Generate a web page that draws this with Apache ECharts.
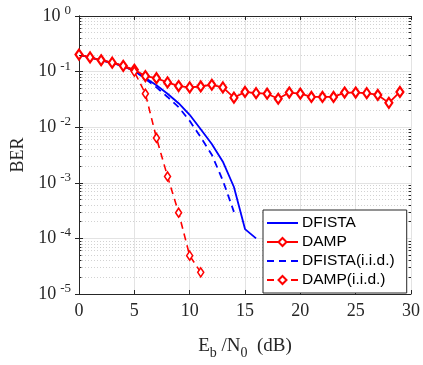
<!DOCTYPE html>
<html><head><meta charset="utf-8">
<script src="https://cdn.jsdelivr.net/npm/echarts@6/dist/echarts.min.js"></script>
<style>html,body{margin:0;padding:0;background:#fff}#c{width:423px;height:365px}</style>
</head><body><div id="c"></div>
<script>
const snrDamp = [0,1,2,3,4,5,6,7,8,9,10,11,12,13,14,15,16,17,18,19,20,21,22,23,24,25,26,27,28,29];
const damp = [0.202,0.18,0.16,0.145,0.127,0.108,0.083,0.076,0.064,0.055,0.052,0.054,0.058,0.052,0.034,0.043,0.041,0.040,0.0325,0.042,0.040,0.035,0.035,0.035,0.042,0.042,0.041,0.038,0.0274,0.043];
const snrDampIid = [0,1,2,3,4,5,6,7,8,9,10,11];
const dampIid = [0.202,0.18,0.16,0.145,0.127,0.1,0.040,0.0064,0.0013,0.00029,0.000049,0.0000245];
const snrDfista = [0,1,2,3,4,5,6,7,8,9,10,11,12,13,14,15,16];
const dfista = [0.2,0.18,0.16,0.143,0.125,0.105,0.077,0.057,0.040,0.027,0.0167,0.0092,0.005,0.0024,0.00084,0.000147,0.0001];
const snrDfistaIid = [0,1,2,3,4,5,6,7,8,9,10,11,12,13,14];
const dfistaIid = [0.2,0.18,0.16,0.143,0.125,0.103,0.074,0.052,0.035,0.023,0.013,0.0066,0.0032,0.0011,0.0003];
const seriesNames = ['DFISTA','DAMP','DFISTA(i.i.d.)','DAMP(i.i.d.)'];
const xTicks = [0,5,10,15,20,25,30];
const yExpMin = -5, yExpMax = 0;

const pairs = (xs, ys) => xs.map((x,i)=>[x, ys[i]]);
const minorVals = [];
for (let e = yExpMin; e < yExpMax; e++) for (let k = 2; k <= 9; k++) minorVals.push(k*Math.pow(10,e));

const axisColor = '#262626';
const serif = 'Liberation Serif';
const noMarker = {color:'rgba(0,0,0,0)', borderColor:'rgba(0,0,0,0)', borderWidth:0};

const minorGrid = minorVals.map(v => [{coord:[0,v]},{coord:[30,v]}]);
const minorTicksL = minorVals.map(v => [{coord:[0,v]},{coord:[0.22,v]}]);
const minorTicksR = minorVals.map(v => [{coord:[29.78,v]},{coord:[30,v]}]);

const chart = echarts.init(document.getElementById('c'), null, {renderer:'canvas'});
chart.setOption({
  animation:false,
  backgroundColor:'#fff',
  grid:{left:79, right:6, top:16, bottom:61, containLabel:false},
  legend:{
    orient:'vertical', left:263, top:210, data:seriesNames, z:20,
    backgroundColor:'#fff', borderColor:'#262626', borderWidth:1,
    padding:[5,12,5,3], itemGap:3, itemWidth:31, itemHeight:10,
    textStyle:{fontFamily:'Liberation Sans', fontSize:15.5, color:'#000', padding:[0,0,0,-1]}
  },
  xAxis:[{
    type:'value', min:0, max:30, interval:5, position:'bottom',
    name:'{n|E}{sub|b}{n| /N}{sub|0}{n|  (dB)}', nameLocation:'middle', nameGap:38,
    nameTextStyle:{rich:{n:{fontFamily:serif,fontSize:19,color:axisColor},sub:{fontFamily:serif,fontSize:14,color:axisColor,padding:[14,0,0,0]}}},
    axisLine:{lineStyle:{color:axisColor,width:1}},
    axisTick:{inside:true,length:4,lineStyle:{color:axisColor}},
    axisLabel:{fontFamily:serif,fontSize:18,color:axisColor,margin:8},
    splitLine:{show:true,lineStyle:{color:'#e3e3e3',width:1}}
  },{
    type:'value', min:0, max:30, interval:5, position:'top',
    axisLine:{show:true,lineStyle:{color:axisColor,width:1}},
    axisTick:{show:true,inside:true,length:4,lineStyle:{color:axisColor}},
    axisLabel:{show:false}, splitLine:{show:false}
  }],
  yAxis:[{
    type:'log', logBase:10, min:Math.pow(10,yExpMin), max:Math.pow(10,yExpMax), position:'left',
    name:'BER', nameLocation:'middle', nameGap:46,
    nameTextStyle:{fontFamily:serif,fontSize:18,color:axisColor},
    axisLine:{show:true,lineStyle:{color:axisColor,width:1}},
    axisTick:{inside:true,length:4,lineStyle:{color:axisColor}},
    axisLabel:{margin:8,formatter:v=>'{b|10}{s|'+Math.round(Math.log10(v))+'}',
      rich:{b:{fontFamily:serif,fontSize:18,color:axisColor},s:{fontFamily:serif,fontSize:13,color:axisColor,padding:[0,0,11,4]}}},
    splitLine:{show:true,lineStyle:{color:'#e3e3e3',width:1}}
  },{
    type:'log', logBase:10, min:Math.pow(10,yExpMin), max:Math.pow(10,yExpMax), position:'right',
    axisLine:{show:true,lineStyle:{color:axisColor,width:1}},
    axisTick:{show:true,inside:true,length:4,lineStyle:{color:axisColor}},
    axisLabel:{show:false}, splitLine:{show:false}
  }],
  series:[
    {type:'line', name:'_grid', data:[], z:1, silent:true,
      markLine:{silent:true, z:1, symbol:'none', label:{show:false}, animation:false,
        lineStyle:{color:'#d2d2d2', type:[1,2], width:1}, data:minorGrid}},
    {type:'line', name:'_ticks', data:[], z:5, silent:true,
      markLine:{silent:true, z:5, symbol:'none', label:{show:false}, animation:false,
        lineStyle:{color:axisColor, type:'solid', width:1}, data:minorTicksL.concat(minorTicksR)}},
    {type:'line', name:seriesNames[0], data:pairs(snrDfista,dfista), showSymbol:false, symbol:'circle',
      lineStyle:{color:'#0000ff',width:1.8}, itemStyle:noMarker, z:3},
    {type:'line', name:seriesNames[1], data:pairs(snrDamp,damp), symbol:'diamond', symbolSize:[7,10],
      lineStyle:{color:'#ff0000',width:1.8}, itemStyle:{color:'#fff', borderColor:'#ff0000', borderWidth:2.2}, z:4},
    {type:'line', name:seriesNames[2], data:pairs(snrDfistaIid,dfistaIid), showSymbol:false, symbol:'circle',
      lineStyle:{color:'#0000ff',width:1.8,type:[7,5]}, itemStyle:noMarker, z:3},
    {type:'line', name:seriesNames[3], data:pairs(snrDampIid,dampIid), symbol:'diamond', symbolSize:[6,9],
      lineStyle:{color:'#ff0000',width:1.6,type:[7,5]}, itemStyle:{color:'#fff',borderColor:'#ff0000',borderWidth:1.6}, z:4}
  ]
});
</script></body></html>
